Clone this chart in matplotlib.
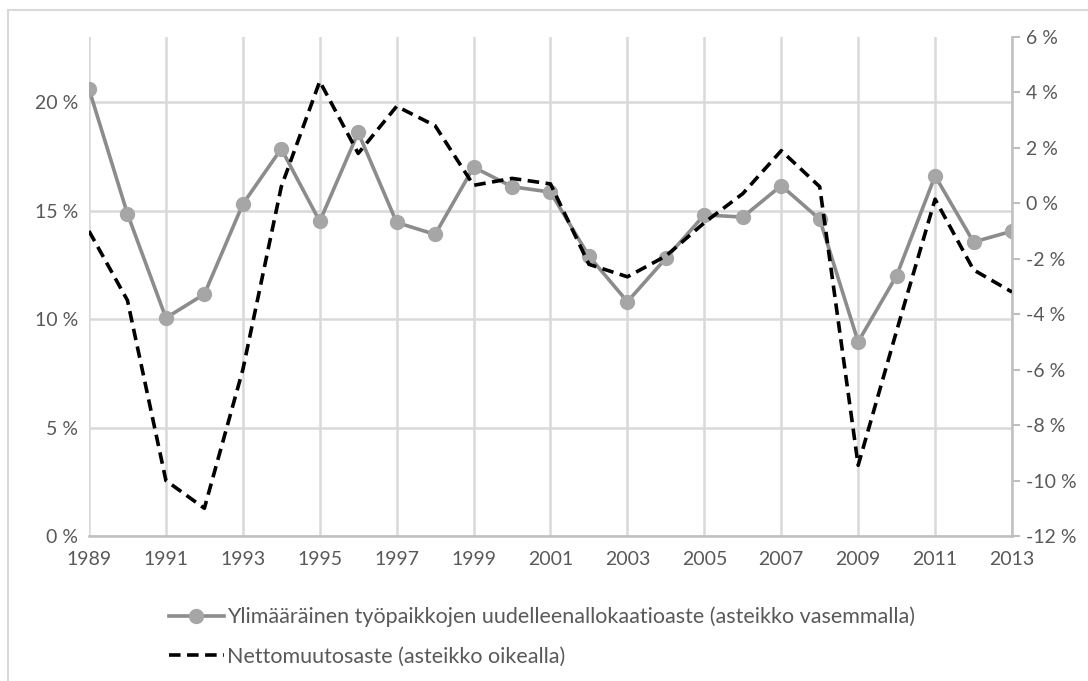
import numpy as np
import matplotlib
matplotlib.use('Agg')
import matplotlib.pyplot as plt
from matplotlib.patches import Rectangle
from matplotlib.ticker import FuncFormatter

plt.rcParams['font.family'] = ['Lato', 'DejaVu Sans']

# Data
years = list(range(1989, 2014))
realloc = [20.6, 14.85, 10.05, 11.15, 15.3, 17.85, 14.5, 18.6, 14.45, 13.9,
           17.0, 16.1, 15.85, 12.9, 10.8, 12.8, 14.8, 14.7, 16.15, 14.6,
           8.95, 12.0, 16.6, 13.55, 14.05]
net_change = [-1.0, -3.5, -10.0, -11.0, -6.0, 0.6, 4.4, 1.8, 3.5, 2.8,
              0.65, 0.9, 0.7, -2.2, -2.65, -1.9, -0.7, 0.35, 1.9, 0.6,
              -9.45, -4.6, 0.15, -2.4, -3.2]
label_left = 'Ylimääräinen työpaikkojen uudelleenallokaatioaste (asteikko vasemmalla)'
label_right = 'Nettomuutosaste (asteikko oikealla)'

txt = '#595959'
grid = '#d9d9d9'

fig = plt.figure(figsize=(10.88, 6.81), dpi=100)
ax = fig.add_axes([89 / 1088, 1 - 536 / 681, (1012 - 89) / 1088, (536 - 37) / 681])
ax2 = ax.twinx()

# outer chart frame (cropped at right/bottom)
fig.patches.append(Rectangle((8 / 1088, -0.1), 1.2, 1 - 10 / 681 + 0.1,
                             transform=fig.transFigure, fill=False,
                             edgecolor='#d9d9d9', linewidth=1.5))

ax.set_xlim(1989, 2013)
ax.set_ylim(0, 23)
ax.set_yticks([0, 5, 10, 15, 20])
ax.yaxis.set_major_formatter(FuncFormatter(lambda v, p: f'{v:.0f} %'))
ax.set_xticks(range(1989, 2014, 2))
ax.grid(True, color=grid, linewidth=1.8)
ax.set_axisbelow(True)
ax.tick_params(axis='both', length=0, colors=txt, labelsize=14, pad=8)
ax.tick_params(axis='x', pad=11)

ax2.set_ylim(-12, 6)
ax2.set_yticks(range(-12, 7, 2))
ax2.yaxis.set_major_formatter(FuncFormatter(lambda v, p: f'{v:.0f} %'.replace('−', '-')))
ax2.tick_params(axis='y', length=6, width=1.5, color='#bfbfbf', colors=txt,
                labelsize=14, pad=4)
ax2.tick_params(axis='y', color='#bfbfbf')

for a in (ax, ax2):
    for s in a.spines.values():
        s.set_visible(False)
ax.spines['bottom'].set_visible(True)
ax.spines['bottom'].set_color('#bfbfbf')
ax.spines['bottom'].set_linewidth(1.8)
ax2.spines['right'].set_visible(True)
ax2.spines['right'].set_color('#bfbfbf')
ax2.spines['right'].set_linewidth(1.8)

l1, = ax.plot(years, realloc, color='#8c8c8c', linewidth=2.6, marker='o',
              markersize=10, markerfacecolor='#a6a6a6', markeredgecolor='#a6a6a6',
              zorder=3, label=label_left)
l2, = ax2.plot(years, net_change, color='black', linewidth=2.6,
               linestyle=(0, (3.2, 1.8)), zorder=4, label=label_right)

fig.legend([l1, l2], [label_left, label_right], loc='upper left',
           bbox_to_anchor=(158 / 1088, 1 - 596 / 681), frameon=False,
           borderpad=0, handlelength=2.55, handletextpad=0.15, labelspacing=0.9,
           prop={'size': 15.5}, labelcolor=txt)

fig.savefig('out.png', dpi=100)
